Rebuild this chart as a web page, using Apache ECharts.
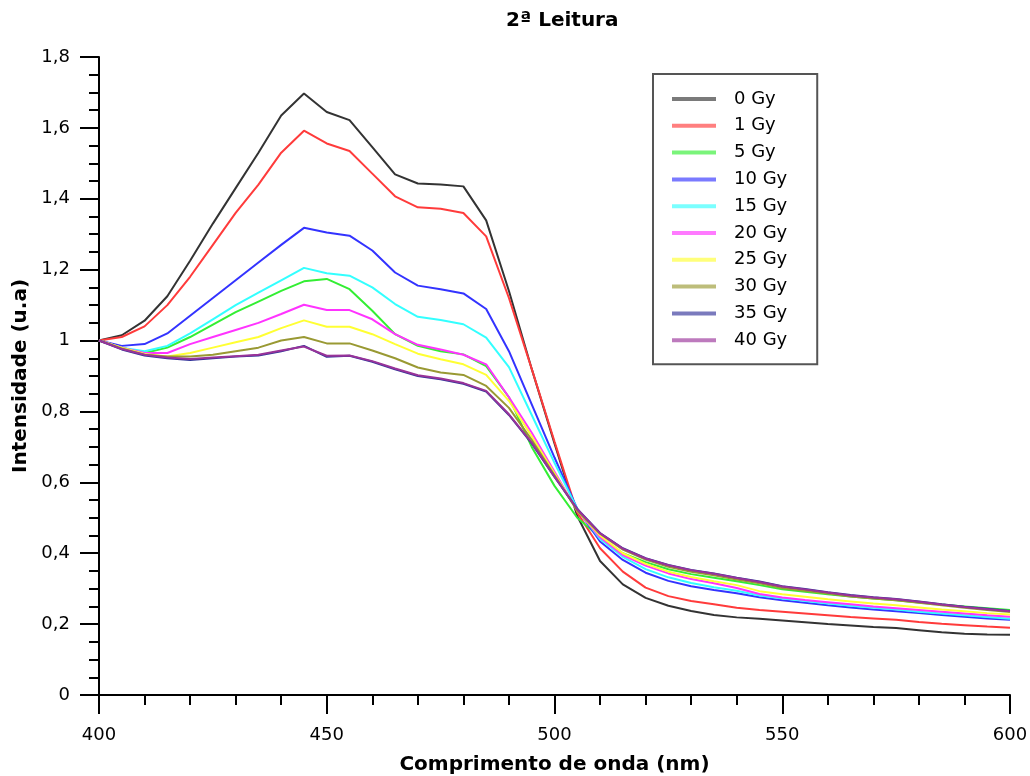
<!DOCTYPE html>
<html>
<head>
<meta charset="utf-8">
<title>2ª Leitura</title>
<script src="https://cdn.jsdelivr.net/npm/echarts@6/dist/echarts.min.js"></script>
<style>
  html, body { margin: 0; padding: 0; background: #fff; }
  #ec { width: 1030px; height: 776px; }
</style>
</head>
<body>
<div id="ec"></div>
<script>
// comprimento de onda (nm)
const wavelengths = [
  400, 405, 410, 415, 420, 425, 430, 435, 440, 445,
  450, 455, 460, 465, 470, 475, 480, 485, 490, 495,
  500, 505, 510, 515, 520, 525, 530, 535, 540, 545,
  550, 555, 560, 565, 570, 575, 580, 585, 590, 595, 600
];

const doseNames = ["0 Gy", "1 Gy", "5 Gy", "10 Gy", "15 Gy", "20 Gy", "25 Gy", "30 Gy", "35 Gy", "40 Gy"];
const doseColors = ["#333333", "#ff3b3b", "#33ee33", "#3333ff", "#33ffff", "#ff33ff", "#ffff33", "#999933", "#333399", "#993399"];

const gy0 = [1.0, 1.015, 1.056, 1.125, 1.225, 1.33, 1.43, 1.53, 1.635, 1.697,
  1.645, 1.622, 1.546, 1.469, 1.443, 1.44, 1.435, 1.339, 1.14, 0.92,
  0.71, 0.505, 0.378, 0.312, 0.274, 0.252, 0.237, 0.226, 0.219, 0.215,
  0.21, 0.205, 0.2, 0.196, 0.192, 0.189, 0.183, 0.177, 0.173, 0.171, 0.17];
const gy1 = [1.0, 1.01, 1.04, 1.1, 1.18, 1.27, 1.36, 1.44, 1.53, 1.592,
  1.556, 1.535, 1.471, 1.407, 1.376, 1.372, 1.36, 1.294, 1.12, 0.92,
  0.715, 0.515, 0.414, 0.348, 0.303, 0.279, 0.265, 0.256, 0.246, 0.24,
  0.235, 0.23, 0.225, 0.22, 0.216, 0.212, 0.206, 0.201, 0.197, 0.193, 0.19];
const gy5 = [1.0, 0.98, 0.965, 0.98, 1.01, 1.045, 1.08, 1.11, 1.14, 1.167,
  1.174, 1.145, 1.084, 1.018, 0.985, 0.97, 0.961, 0.928, 0.84, 0.70,
  0.59, 0.5, 0.445, 0.4, 0.375, 0.355, 0.341, 0.331, 0.321, 0.31,
  0.298, 0.291, 0.284, 0.278, 0.272, 0.267, 0.261, 0.255, 0.25, 0.245, 0.24];
const gy10 = [1.0, 0.985, 0.99, 1.02, 1.07, 1.12, 1.17, 1.22, 1.27, 1.318,
  1.305, 1.296, 1.254, 1.192, 1.155, 1.145, 1.133, 1.089, 0.97, 0.82,
  0.67, 0.525, 0.433, 0.381, 0.345, 0.322, 0.307, 0.296, 0.287, 0.276,
  0.267, 0.26, 0.253, 0.247, 0.241, 0.236, 0.231, 0.226, 0.221, 0.216, 0.212];
const gy15 = [1.0, 0.98, 0.97, 0.985, 1.02, 1.06, 1.1, 1.135, 1.17, 1.205,
  1.19, 1.183, 1.15, 1.103, 1.067, 1.058, 1.046, 1.008, 0.925, 0.79,
  0.655, 0.525, 0.44, 0.39, 0.355, 0.332, 0.316, 0.304, 0.294, 0.281,
  0.272, 0.265, 0.258, 0.252, 0.246, 0.241, 0.235, 0.23, 0.225, 0.22, 0.215];
const gy20 = [1.0, 0.98, 0.965, 0.965, 0.99, 1.01, 1.03, 1.05, 1.075, 1.101,
  1.086, 1.086, 1.06, 1.018, 0.988, 0.975, 0.96, 0.933, 0.84, 0.74,
  0.63, 0.52, 0.445, 0.395, 0.365, 0.343, 0.327, 0.315, 0.302, 0.285,
  0.275, 0.268, 0.262, 0.256, 0.25, 0.245, 0.24, 0.235, 0.23, 0.225, 0.221];
const gy25 = [1.0, 0.98, 0.962, 0.955, 0.965, 0.98, 0.995, 1.01, 1.035, 1.057,
  1.039, 1.039, 1.018, 0.99, 0.963, 0.947, 0.933, 0.903, 0.83, 0.73,
  0.625, 0.52, 0.45, 0.4, 0.37, 0.348, 0.333, 0.321, 0.31, 0.293,
  0.284, 0.277, 0.27, 0.264, 0.258, 0.253, 0.247, 0.241, 0.236, 0.231, 0.227];
const gy30 = [1.0, 0.978, 0.96, 0.955, 0.955, 0.96, 0.97, 0.98, 1.0, 1.01,
  0.992, 0.992, 0.972, 0.95, 0.924, 0.91, 0.903, 0.872, 0.81, 0.72,
  0.62, 0.52, 0.455, 0.41, 0.382, 0.362, 0.348, 0.338, 0.326, 0.315,
  0.302, 0.294, 0.286, 0.278, 0.272, 0.267, 0.26, 0.253, 0.246, 0.24, 0.234];
const gy35 = [1.0, 0.975, 0.958, 0.95, 0.945, 0.95, 0.955, 0.958, 0.97, 0.985,
  0.954, 0.957, 0.94, 0.919, 0.9, 0.891, 0.878, 0.856, 0.79, 0.71,
  0.615, 0.525, 0.457, 0.414, 0.386, 0.367, 0.353, 0.343, 0.331, 0.32,
  0.307, 0.299, 0.29, 0.282, 0.276, 0.271, 0.264, 0.256, 0.249, 0.243, 0.237];
const gy40 = [1.0, 0.976, 0.96, 0.952, 0.948, 0.952, 0.956, 0.96, 0.972, 0.983,
  0.957, 0.958, 0.942, 0.921, 0.902, 0.893, 0.88, 0.858, 0.792, 0.712,
  0.616, 0.524, 0.456, 0.413, 0.385, 0.366, 0.352, 0.342, 0.33, 0.319,
  0.306, 0.298, 0.289, 0.281, 0.275, 0.27, 0.263, 0.255, 0.248, 0.242, 0.236];

const allSeries = [gy0, gy1, gy5, gy10, gy15, gy20, gy25, gy30, gy35, gy40];

const FONT = "DejaVu Sans";

function commaLabel(v) {
  return (Math.round(v * 10) / 10).toString().replace(".", ",");
}

function drawChart() {
  const chart = echarts.init(document.getElementById("ec"), null, { renderer: "canvas" });

  const series = allSeries.map((vals, i) => ({
    name: doseNames[i],
    type: "line",
    data: wavelengths.map((w, j) => [w, vals[j]]),
    showSymbol: false,
    symbol: "none",
    lineStyle: { width: 2, color: doseColors[i] },
    itemStyle: { color: doseColors[i] },
    emphasis: { disabled: true },
  }));

  chart.setOption({
    animation: false,
    textStyle: { fontFamily: FONT },
    title: {
      text: "2ª Leitura",
      left: 506,
      top: 11,
      padding: 0,
      textStyle: { fontFamily: FONT, fontSize: 20, fontWeight: "bold", color: "#000" },
    },
    grid: {
      left: 99,
      right: 20,
      top: 57,
      bottom: 81,
      outerBoundsMode: "none",
      containLabel: false,
    },
    legend: {
      orient: "vertical",
      left: 653,
      top: 74,
      padding: [15, 30, 14, 19],
      borderColor: "#555",
      borderWidth: 2,
      icon: "rect",
      itemWidth: 44,
      itemHeight: 4,
      itemGap: 6.8,
      itemStyle: { opacity: 0.65 },
      textStyle: { fontFamily: FONT, fontSize: 18, color: "#000", lineHeight: 20, padding: [0, 0, 0, 13] },
      data: doseNames,
    },
    xAxis: {
      type: "value",
      min: 400,
      max: 600,
      interval: 50,
      name: "Comprimento de onda (nm)",
      nameLocation: "middle",
      nameGap: 60,
      nameTextStyle: { fontFamily: FONT, fontSize: 20, fontWeight: "bold", color: "#000" },
      axisLine: { show: true, lineStyle: { color: "#000", width: 2 } },
      axisTick: { show: true, length: 19, lineStyle: { color: "#000", width: 2 } },
      minorTick: { show: true, splitNumber: 5, length: 10, lineStyle: { color: "#000", width: 2 } },
      axisLabel: { margin: 31, fontFamily: FONT, fontSize: 18, color: "#000" },
      splitLine: { show: false },
    },
    yAxis: {
      type: "value",
      min: 0,
      max: 1.8,
      interval: 0.2,
      name: "Intensidade (u.a)",
      nameLocation: "middle",
      nameGap: 68,
      nameTextStyle: { fontFamily: FONT, fontSize: 20, fontWeight: "bold", color: "#000" },
      axisLine: { show: true, lineStyle: { color: "#000", width: 2 } },
      axisTick: { show: true, length: 19, lineStyle: { color: "#000", width: 2 } },
      minorTick: { show: true, splitNumber: 4, length: 10, lineStyle: { color: "#000", width: 2 } },
      axisLabel: { margin: 29, fontFamily: FONT, fontSize: 18, color: "#000", formatter: commaLabel },
      splitLine: { show: false },
    },
    series: series,
  });
}

drawChart();
</script>
</body>
</html>
